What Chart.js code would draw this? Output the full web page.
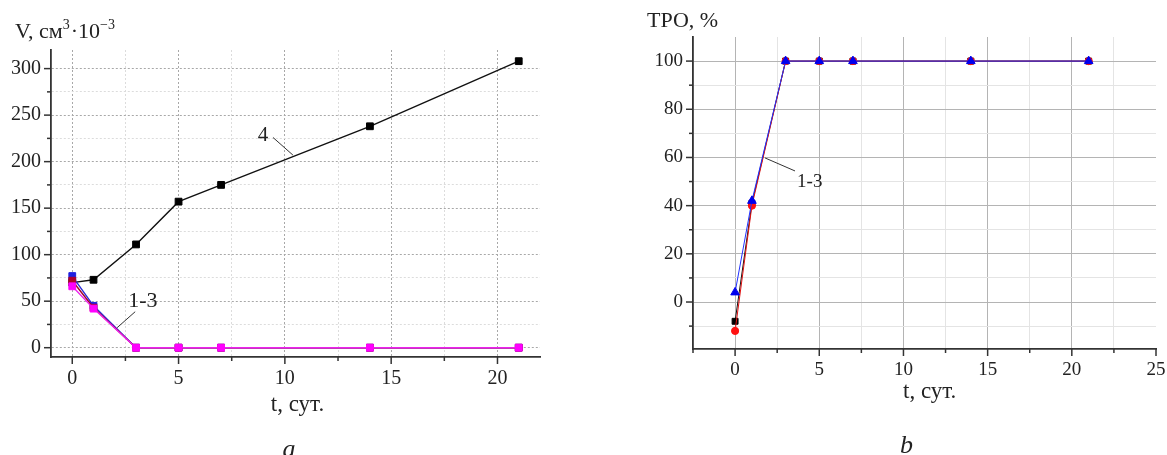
<!DOCTYPE html>
<html>
<head>
<meta charset="utf-8">
<script src="https://cdn.jsdelivr.net/npm/chart.js@4.4.0/dist/chart.umd.min.js"></script>
<style>
  html, body { margin: 0; padding: 0; background: #fff; }
  #wrap { position: relative; width: 1167px; height: 455px; overflow: hidden; }
  canvas { position: absolute; top: 0; }
  #chartA { left: 0; }
  #chartB { left: 640px; }
</style>
</head>
<body>
<div id="wrap">
  <canvas id="chartA" width="580" height="455"></canvas>
  <canvas id="chartB" width="527" height="455"></canvas>
</div>
<script>
// time points, days
const tDays = [0, 1, 3, 5, 7, 14, 21];

// panel a: V, cm3*10^-3
const volume1 = [77, 45, 0, 0, 0, 0, 0];
const volume2 = [72, 43, 0, 0, 0, 0, 0];
const volume3 = [66, 42, 0, 0, 0, 0, 0];
const volume4 = [70, 73, 111, 157, 175, 238, 308];

// panel b: TPO, %
const tro1 = [-8, 41, 100, 100, 100, 100, 100];
const tro2 = [-12, 40, 100, 100, 100, 100, 100];
const tro3 = [4, 42, 100, 100, 100, 100, 100];

// ticks (labelled ones are the majors)
const xTicksA = [0, 2.5, 5, 7.5, 10, 12.5, 15, 17.5, 20];
const yTicksA = [0, 25, 50, 75, 100, 125, 150, 175, 200, 225, 250, 275, 300];
const xTicksB = [-2.5, 0, 2.5, 5, 7.5, 10, 12.5, 15, 17.5, 20, 22.5, 25];
const yTicksB = [-10, 0, 10, 20, 30, 40, 50, 60, 70, 80, 90, 100];
const xMajorA = [0, 5, 10, 15, 20];
const yMajorA = [0, 50, 100, 150, 200, 250, 300];
const xMajorB = [0, 5, 10, 15, 20, 25];
const yMajorB = [0, 20, 40, 60, 80, 100];

// annotation anchors in data units: [text, textX, textY, lineFromX, lineFromY, lineToX, lineToY]
const noteA4 = ['4', 8.73, 222, 9.44, 226, 10.38, 207];
const noteA13 = ['1-3', 2.63, 44, 2.96, 38.7, 2.11, 21.5];
const noteB13 = ['1-3', 3.68, 47.7, 1.78, 59.8, 3.56, 54.4];

Chart.defaults.font.family = "'Liberation Serif', 'Times New Roman', serif";
Chart.defaults.color = '#222';

const pts = arr => tDays.map((t, i) => ({ x: t, y: arr[i] }));

function fixTicks(list) {
  return s => { s.ticks = list.map(v => ({ value: v })); };
}

function drawNote(chart, note, font) {
  const ctx = chart.ctx, xs = chart.scales.x, ys = chart.scales.y;
  ctx.save();
  ctx.strokeStyle = '#333';
  ctx.lineWidth = 1;
  ctx.beginPath();
  ctx.moveTo(xs.getPixelForValue(note[3]), ys.getPixelForValue(note[4]));
  ctx.lineTo(xs.getPixelForValue(note[5]), ys.getPixelForValue(note[6]));
  ctx.stroke();
  ctx.fillStyle = '#222';
  ctx.font = font;
  ctx.textBaseline = 'alphabetic';
  ctx.fillText(note[0], xs.getPixelForValue(note[1]), ys.getPixelForValue(note[2]));
  ctx.restore();
}

function drawAxisTicks(chart, xMajor, yMajor) {
  const ctx = chart.ctx, xs = chart.scales.x, ys = chart.scales.y;
  ctx.save();
  ctx.strokeStyle = '#333';
  ctx.lineWidth = 1.5;
  xs.ticks.forEach(t => {
    const px = xs.getPixelForValue(t.value);
    const len = xMajor.includes(t.value) ? 7 : 4;
    ctx.beginPath();
    ctx.moveTo(px, ys.bottom);
    ctx.lineTo(px, ys.bottom + len);
    ctx.stroke();
  });
  ys.ticks.forEach(t => {
    const py = ys.getPixelForValue(t.value);
    const len = yMajor.includes(t.value) ? 7 : 4;
    ctx.beginPath();
    ctx.moveTo(xs.left, py);
    ctx.lineTo(xs.left - len, py);
    ctx.stroke();
  });
  ctx.restore();
}

function scaleOpts(min, max, ticks, major, gridMajor, gridMinor, dash, width, height, fontSize) {
  return {
    type: 'linear',
    min: min,
    max: max,
    afterBuildTicks: fixTicks(ticks),
    afterFit: s => {
      if (width) s.width = width;
      if (height) s.height = height;
      s.paddingLeft = 0; s.paddingRight = 0; s.paddingTop = 0; s.paddingBottom = 0;
    },
    ticks: {
      autoSkip: false,
      maxRotation: 0,
      padding: 3,
      font: { size: fontSize },
      callback: v => major.includes(v) ? v : ''
    },
    grid: {
      drawTicks: true,
      tickLength: 7,
      tickColor: 'rgba(0,0,0,0)',
      color: c => (c.tick && c.tick.value === max) ? 'rgba(0,0,0,0)'
        : (c.tick && major.includes(c.tick.value) ? gridMajor : gridMinor),
      lineWidth: 1
    },
    border: { display: true, color: '#333', width: 1.8, dash: dash }
  };
}

// ---------- panel a ----------
const plotA = {
  id: 'plotA',
  afterDatasetsDraw(chart) {
    drawAxisTicks(chart, xMajorA, yMajorA);
    drawNote(chart, noteA4, '21px "Liberation Serif"');
    drawNote(chart, noteA13, '22px "Liberation Serif"');
  },
  afterDraw(chart) {
    const ctx = chart.ctx;
    ctx.save();
    ctx.fillStyle = '#222';
    ctx.textBaseline = 'alphabetic';
    // y title V, cm3*10^-3 with superscripts
    let x = 15;
    const y = 38;
    const parts = [['V, см', 22, 0], ['3', 14, -9], ['·10', 22, 0], ['−3', 14, -9]];
    parts.forEach(p => {
      ctx.font = p[1] + 'px "Liberation Serif"';
      ctx.fillText(p[0], x, y + p[2]);
      x += ctx.measureText(p[0]).width + (p[1] < 20 ? 1 : 0);
    });
    ctx.font = '23px "Liberation Serif"';
    ctx.textAlign = 'center';
    const xs = chart.scales.x;
    ctx.fillText('t, сут.', (xs.left + xs.right) / 2 + 2, 411);
    ctx.font = 'italic 26px "Liberation Serif"';
    ctx.fillText('a', 289, 457);
    ctx.restore();
  }
};

new Chart(document.getElementById('chartA'), {
  type: 'line',
  data: {
    datasets: [
      { label: '4', data: pts(volume4), borderColor: '#111', backgroundColor: '#000', borderWidth: 1.4, order: 4 },
      { label: '1', data: pts(volume1), borderColor: '#2a2ad8', backgroundColor: '#1f1fe0', borderWidth: 1.4, order: 3 },
      { label: '2', data: pts(volume2), borderColor: '#a00028', backgroundColor: '#b0002a', borderWidth: 1.4, order: 2 },
      { label: '3', data: pts(volume3), borderColor: '#ee22ee', backgroundColor: '#ff00ff', borderWidth: 1.4, order: 1 }
    ].map(d => Object.assign(d, { pointStyle: 'rect', pointRadius: 4.8, pointBorderWidth: 1, pointBorderColor: d.backgroundColor, tension: 0 }))
  },
  options: {
    responsive: false,
    animation: false,
    devicePixelRatio: 1,
    layout: { padding: { top: 50, right: 40, bottom: 63, left: 0 } },
    plugins: { legend: { display: false }, tooltip: { enabled: false } },
    scales: {
      x: scaleOpts(-1, 22, xTicksA, xMajorA, '#a8a8a8', '#dcdcdc', [2, 2], 0, 35, 20),
      y: scaleOpts(-10, 320, yTicksA, yMajorA, '#a8a8a8', '#dcdcdc', [2, 2], 51, 0, 20)
    }
  },
  plugins: [plotA]
});

// ---------- panel b ----------
const plotB = {
  id: 'plotB',
  afterDatasetsDraw(chart) {
    drawAxisTicks(chart, xMajorB, yMajorB);
    drawNote(chart, noteB13, '19px "Liberation Serif"');
  },
  afterDraw(chart) {
    const ctx = chart.ctx;
    ctx.save();
    ctx.fillStyle = '#222';
    ctx.textBaseline = 'alphabetic';
    ctx.font = '22px "Liberation Serif"';
    ctx.fillText('ТРО, %', 7, 27);
    ctx.font = '23px "Liberation Serif"';
    ctx.fillText('t, сут.', 263, 398);
    ctx.font = 'italic 26px "Liberation Serif"';
    ctx.fillText('b', 260, 453);
    ctx.restore();
  }
};

new Chart(document.getElementById('chartB'), {
  type: 'line',
  data: {
    datasets: [
      { label: '1', data: pts(tro1), borderColor: '#111', backgroundColor: '#000', pointStyle: 'rect', pointRadius: 4.2, order: 3 },
      { label: '2', data: pts(tro2), borderColor: '#e01010', backgroundColor: '#ff1010', pointStyle: 'circle', pointRadius: 3.6, order: 2 },
      { label: '3', data: pts(tro3), borderColor: '#2030ff', backgroundColor: '#0000ee', pointStyle: 'triangle', pointRadius: 5, order: 1 }
    ].map(d => Object.assign(d, { borderWidth: 1, pointBorderWidth: 1, pointBorderColor: d.backgroundColor, tension: 0 }))
  },
  options: {
    responsive: false,
    animation: false,
    devicePixelRatio: 1,
    layout: { padding: { top: 37, right: 11, bottom: 71, left: 0 } },
    plugins: { legend: { display: false }, tooltip: { enabled: false } },
    scales: {
      x: scaleOpts(-2.5, 25, xTicksB, xMajorB, '#b4b4b4', '#e4e4e4', [], 0, 35, 19),
      y: scaleOpts(-19.5, 110, yTicksB, yMajorB, '#b4b4b4', '#e4e4e4', [], 53, 0, 19)
    }
  },
  plugins: [plotB]
});
</script>
</body>
</html>
